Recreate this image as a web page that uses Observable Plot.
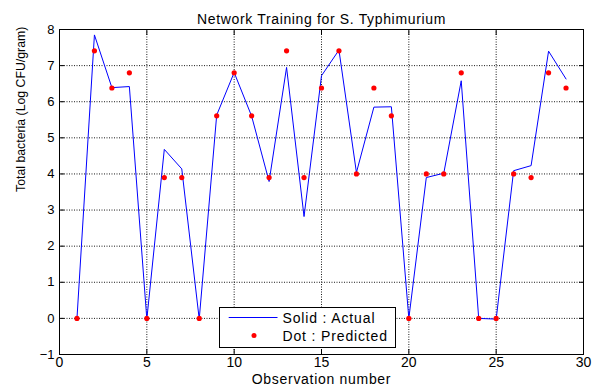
<!DOCTYPE html>
<html>
<head>
<meta charset="utf-8">
<script src="https://cdn.jsdelivr.net/npm/d3@7"></script>
<script src="https://cdn.jsdelivr.net/npm/@observablehq/plot@0.6"></script>
<style>
  html, body { margin: 0; padding: 0; background: #fff; }
  #wrap { position: relative; width: 594px; height: 392px; font-family: "Liberation Sans", Arial, sans-serif; }
  #legend { position: absolute; left: 219px; top: 307px; width: 177px; height: 41px; border: 1px solid #000; background: #fff; box-sizing: border-box; font-size: 14px; letter-spacing: 0.85px; }
  #legend .row { position: absolute; left: 0; height: 19px; display: flex; align-items: center; white-space: nowrap; }
  #legend svg { display: block; }
</style>
</head>
<body>
<div id="wrap">
  <div id="chart"></div>
  <div id="legend">
    <div class="row" style="top:0px;"><svg width="62.5" height="19"><line x1="8.7" x2="57.5" y1="9.5" y2="9.5" stroke="#0000ff" stroke-width="1.2"/></svg><span>Solid : Actual</span></div>
    <div class="row" style="top:18px;"><svg width="62.5" height="19"><circle cx="34" cy="9.5" r="2.5" fill="#ff0000"/></svg><span>Dot : Predicted</span></div>
  </div>
</div>
<script>
const observations = d3.range(1, 30);
const actual = [0, 7.85, 6.39, 6.42, -0.02, 4.68, 4.14, -0.02, 5.63, 6.81,
                5.6, 3.79, 6.95, 2.82, 6.72, 7.43, 4.04, 5.85, 5.86, 0,
                3.9, 4.02, 6.58, 0, -0.02, 4.09, 4.23, 7.4, 6.63];
const predicted = [0, 7.41, 6.38, 6.8, 0, 3.9, 3.9, 0, 5.61, 6.8,
                   5.61, 3.9, 7.41, 3.9, 6.38, 7.41, 4.0, 6.38, 5.61, 0,
                   4.0, 4.0, 6.8, 0, 0, 4.0, 3.9, 6.8, 6.38];
const xTicks = [0, 5, 10, 15, 20, 25, 30];
const yTicks = [-1, 0, 1, 2, 3, 4, 5, 6, 7, 8];
const titleText = "Network Training for S. Typhimurium";
const xLabel = "Observation number";
const yLabel = "Total bacteria (Log CFU/gram)";

const actualData = observations.map((x, i) => ({x, y: actual[i]}));
const predData = observations.map((x, i) => ({x, y: predicted[i]}));

const chart = Plot.plot({
  width: 594,
  height: 392,
  marginLeft: 59,
  marginRight: 11,
  marginTop: 29,
  marginBottom: 38,
  style: {fontFamily: "'Liberation Sans', Arial, sans-serif", fontSize: "12px", color: "#000", background: "#fff"},
  x: {domain: [0, 30]},
  y: {domain: [-1, 8]},
  marks: [
    Plot.gridX(xTicks, {stroke: "#000", strokeOpacity: 0.9, strokeDasharray: "1,1.5"}),
    Plot.gridY(yTicks, {stroke: "#000", strokeOpacity: 0.9, strokeDasharray: "1,1.5"}),
    Plot.axisX(xTicks, {anchor: "bottom", tickSize: -5, tickPadding: 8, fontSize: 14, label: null}),
    Plot.axisX(xTicks, {anchor: "top", tickSize: -5, tickFormat: () => "", label: null}),
    Plot.axisY(yTicks, {anchor: "left", tickSize: -5, tickPadding: 10, fontSize: 13, label: null}),
    Plot.axisY(yTicks, {anchor: "right", tickSize: -5, tickFormat: () => "", label: null}),
    Plot.frame({stroke: "#000", strokeWidth: 1}),
    Plot.line(actualData, {x: "x", y: "y", stroke: "#0000ff", strokeWidth: 1}),
    Plot.dot(predData, {x: "x", y: "y", r: 2.6, fill: "#ff0000", stroke: null}),
    Plot.text([titleText], {frameAnchor: "top", dy: -15, fontSize: 14}),
    Plot.text([xLabel], {frameAnchor: "bottom", dy: 29, fontSize: 14}),
    Plot.text([yLabel], {frameAnchor: "left", dx: -38, rotate: -90, fontSize: 12.3})
  ]
});
chart.querySelectorAll("text").forEach(t => {
  if (t.textContent === titleText) t.style.letterSpacing = "0.65px";
  if (t.textContent === xLabel) t.style.letterSpacing = "0.7px";
});
document.getElementById("chart").appendChild(chart);
</script>
</body>
</html>
